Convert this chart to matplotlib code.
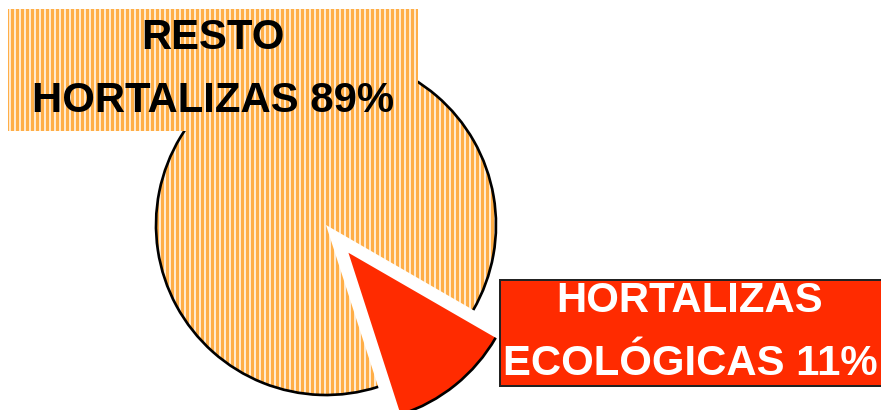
import matplotlib
matplotlib.use("Agg")
import matplotlib.pyplot as plt
from matplotlib.patches import Arc, Rectangle

# data
labels = ["RESTO\nHORTALIZAS 89%", "HORTALIZAS\nECOLÓGICAS 11%"]
shares = [88.3, 11.7]
explode = [0, 0.21]   # fraction of radius

orange = "#FFAE47"
red = "#FF2B00"

W, H, DPI = 881, 410, 120
R = 170
plt.rcParams['font.family'] = ['Liberation Sans', 'DejaVu Sans']
plt.rcParams['hatch.linewidth'] = 2.1

fig = plt.figure(figsize=(W / DPI, H / DPI), dpi=DPI)
ax = fig.add_axes([0, 0, 1, 1])

# pie in pixel coords (y measured from bottom); pie's explode is absolute
wedges, _ = ax.pie(shares, explode=[e * R for e in explode], startangle=-30,
                   counterclock=True, center=(326, H - 225), radius=R,
                   wedgeprops=dict(linewidth=0))
wedges[0].set_facecolor("white")
wedges[0].set_edgecolor(orange)
wedges[0].set_hatch("||||")
wedges[1].set_facecolor(red)
wedges[1].set_edgecolor(red)

# black outline only on the curved edges
for w in wedges:
    ax.add_patch(Arc(w.center, 2 * w.r, 2 * w.r, theta1=w.theta1, theta2=w.theta2,
                     color="black", lw=1.6, zorder=3))

# label boxes
ax.add_patch(Rectangle((8, H - 131), 410, 122, facecolor="white", edgecolor=orange,
                       hatch="||||", linewidth=0, zorder=4))
ax.add_patch(Rectangle((500, H - 386), 400, 106, facecolor=red, edgecolor="#222222",
                       linewidth=1.2, zorder=4))

ax.text(213, H - 112, labels[0], ha="center", va="baseline", fontsize=25.1,
        fontweight="bold", color="black", linespacing=1.73, zorder=5)
ax.text(690, H - 375, labels[1], ha="center", va="baseline", fontsize=25.1,
        fontweight="bold", color="white", linespacing=1.73, zorder=5)

ax.set_xlim(0, W)
ax.set_ylim(0, H)
ax.set_aspect("equal")
ax.axis("off")

fig.savefig("out.png", dpi=DPI)
